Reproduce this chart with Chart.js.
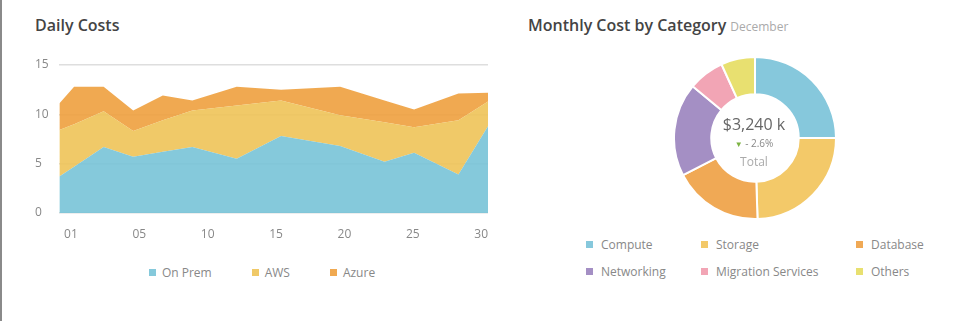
<!DOCTYPE html>
<html>
<head>
<meta charset="utf-8">
<title>Costs</title>
<script src="https://cdn.jsdelivr.net/npm/chart.js@4.4.0/dist/chart.umd.min.js"></script>
<style>
    html, body { margin: 0; padding: 0; background: #fff; }
    body { width: 960px; height: 321px; position: relative; overflow: hidden; font-family: "Open Sans", sans-serif; }
    .edge { position: absolute; left: 0; top: 0; width: 2px; height: 321px; background: #8a8a8a; }
    .title { position: absolute; top: 15px; font-size: 16px; font-weight: 600; color: #444; line-height: 20px; white-space: nowrap; }
    .title small { font-size: 12px; font-weight: 400; color: #aaa; margin-left: 4px; }
    #daily-wrap { position: absolute; left: 0; top: 40px; width: 500px; height: 207px; }
    #category-wrap { position: absolute; left: 673px; top: 56px; width: 164px; height: 164px; }
    .center { position: absolute; left: 679px; width: 150px; text-align: center; white-space: nowrap; }
    .legend { position: absolute; font-size: 12px; color: #888; line-height: 16px; white-space: nowrap; }
    .legend i { display: inline-block; width: 7px; height: 7px; vertical-align: 1px; }
    #daily-legend { left: 0; top: 265px; width: 524px; display: flex; justify-content: center; gap: 40px; }
    #daily-legend i { margin-right: 6px; }
    #category-legend { left: 586px; top: 237px; display: grid; grid-template-columns: 115px 155px auto; row-gap: 11px; }
    #category-legend i { margin-right: 8px; }
</style>
</head>
<body>
<div class="edge"></div>
<div class="title" style="left:35px">Daily Costs</div>
<div class="title" style="left:528px">Monthly Cost by Category<small>December</small></div>

<div id="daily-wrap"><canvas id="daily-chart"></canvas></div>
<div id="daily-legend" class="legend"></div>

<div id="category-wrap"><canvas id="category-chart"></canvas></div>
<div class="center" style="top:114px;font-size:16px;line-height:20px;color:#666">$3,240 k</div>
<div class="center" style="top:137px;font-size:10px;line-height:12px;color:#888"><span style="color:#7cb342;font-size:8px">&#9660;</span> - 2.6%</div>
<div class="center" style="top:155px;font-size:12px;line-height:14px;color:#aaa">Total</div>
<div id="category-legend" class="legend"></div>

<script>
// Daily costs (day of month, stacked values)
const days = [1, 2, 4, 6, 8, 10, 13, 16, 20, 23, 25, 28, 30];
const onPrem = [3.7, 4.7, 6.7, 5.7, 6.2, 6.7, 5.5, 7.8, 6.8, 5.2, 6.1, 3.9, 8.8];
const aws = [4.7, 4.3, 3.6, 2.6, 3.2, 3.7, 5.4, 3.6, 3.1, 4.0, 2.6, 5.5, 2.5];
const azure = [2.7, 3.8, 2.5, 2.1, 2.5, 1.0, 1.9, 1.1, 2.9, 2.2, 1.8, 2.7, 0.9];
const dayTicks = ['01', '05', '10', '15', '20', '25', '30'];

// Monthly cost by category ($k)
const categories = ['Compute', 'Storage', 'Database', 'Networking', 'Migration Services', 'Others'];
const categoryCosts = [810, 794, 580, 603, 233, 220];

Chart.defaults.font.family = '"Open Sans", sans-serif';
Chart.defaults.font.size = 12;
Chart.defaults.color = '#888';

function points(values) {
    return values.map((v, i) => ({ x: days[i], y: v }));
}

// Build an html legend from the chart's own legend items
function buildLegend(chart, el) {
    const items = chart.options.plugins.legend.labels.generateLabels(chart);
    items.forEach(item => {
        const span = document.createElement('span');
        span.innerHTML = `<i style="background:${item.fillStyle}"></i>${item.text}`;
        el.appendChild(span);
    });
}

const daily = new Chart(document.getElementById('daily-chart'), {
    type: 'line',
    data: {
        datasets: [
            { label: 'On Prem', data: points(onPrem), backgroundColor: 'rgba(120,195,215,0.9)', fill: 'origin' },
            { label: 'AWS', data: points(aws), backgroundColor: 'rgba(238,195,88,0.9)', fill: '-1' },
            { label: 'Azure', data: points(azure), backgroundColor: 'rgba(238,160,62,0.9)', fill: '-1' }
        ].map(ds => Object.assign(ds, { xAxisID: 'days', borderWidth: 0, pointRadius: 0, tension: 0 }))
    },
    options: {
        responsive: true,
        maintainAspectRatio: false,
        animation: false,
        layout: { padding: { left: 35, top: 25, right: 12, bottom: 0 } },
        plugins: { legend: { display: false }, tooltip: { enabled: false } },
        scales: {
            x: {
                type: 'linear',
                position: 'bottom',
                min: -0.17,
                max: 6.1,
                grid: { display: false },
                border: { display: false },
                ticks: {
                    stepSize: 1,
                    includeBounds: false,
                    autoSkip: false,
                    maxRotation: 0,
                    padding: 6,
                    callback: v => dayTicks[v]
                },
                afterFit: s => { s.height = 34; }
            },
            days: { type: 'linear', axis: 'x', position: 'bottom', display: false, min: 1, max: 30 },
            y: {
                stacked: true,
                min: 0,
                max: 15,
                ticks: { stepSize: 5, crossAlign: 'far', padding: 0 },
                grid: { color: '#dedede', lineWidth: 1.5, drawTicks: false },
                border: { display: false },
                afterFit: s => { s.width = 24.3; }
            }
        }
    }
});
buildLegend(daily, document.getElementById('daily-legend'));

const category = new Chart(document.getElementById('category-chart'), {
    type: 'doughnut',
    data: {
        labels: categories,
        datasets: [{
            data: categoryCosts,
            backgroundColor: ['#86c8dc', '#f3c969', '#f0a955', '#a48fc4', '#f2a5b5', '#e8e070'],
            borderColor: '#fff',
            borderWidth: 2
        }]
    },
    options: {
        responsive: true,
        maintainAspectRatio: false,
        animation: false,
        cutout: '54%',
        plugins: { legend: { display: false }, tooltip: { enabled: false } }
    }
});
buildLegend(category, document.getElementById('category-legend'));
</script>
</body>
</html>
